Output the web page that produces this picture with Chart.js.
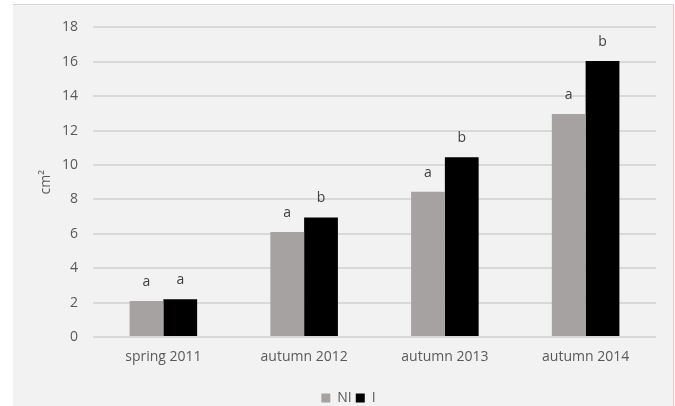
<!DOCTYPE html>
<html>
<head>
<meta charset="utf-8">
<script src="https://cdn.jsdelivr.net/npm/chart.js@4"></script>
<style>
  html, body { margin: 0; padding: 0; background: #fff; overflow: hidden; width: 675px; height: 406px; }
  #panel {
    position: absolute; left: 13px; top: 4px; width: 661px; height: 402px; overflow: hidden;
    background: #f2f2f2; border-top: 1px solid #d6d6d6; border-right: 1px solid #f4c4c4;
    box-sizing: border-box;
  }
  #wrap { position: absolute; left: 0; top: -1px; width: 660px; height: 411px; }
</style>
</head>
<body>
<div id="panel"><div id="wrap"><canvas id="areaChart"></canvas></div></div>
<script>
const seasons = ['spring 2011', 'autumn 2012', 'autumn 2013', 'autumn 2014'];
const niValues = [2.1, 6.1, 8.45, 12.97];
const iValues = [2.2, 6.95, 10.45, 16.05];
const niLetters = ['a', 'a', 'a', 'a'];
const iLetters = ['a', 'b', 'b', 'b'];
const yTicks = [0, 2, 4, 6, 8, 10, 12, 14, 16, 18];

const FONT = '"Open Sans", sans-serif';

// letters above the bars
const letterPlugin = {
  id: 'letters',
  afterDatasetsDraw(chart) {
    const ctx = chart.ctx;
    const sets = [niLetters, iLetters];
    ctx.save();
    ctx.font = '14px ' + FONT;
    ctx.fillStyle = '#404040';
    ctx.textAlign = 'center';
    ctx.textBaseline = 'middle';
    chart.data.datasets.forEach((ds, i) => {
      chart.getDatasetMeta(i).data.forEach((bar, j) => {
        ctx.fillText(sets[i][j], bar.x, bar.y - 19);
      });
    });
    ctx.restore();
  }
};

// legend sits a bit right of centre in the original
const legendShift = {
  id: 'legendShift',
  afterLayout(chart) {
    if (chart.legend) {
      chart.legend.left += 14;
      chart.legend.right += 14;
    }
  }
};

const ctx = document.getElementById('areaChart').getContext('2d');
new Chart(ctx, {
  type: 'bar',
  data: {
    labels: seasons,
    datasets: [
      { label: 'NI', data: niValues, backgroundColor: '#a5a2a1', borderWidth: 0 },
      { label: 'I', data: iValues, backgroundColor: '#000000', borderWidth: 0 }
    ]
  },
  options: {
    responsive: true,
    maintainAspectRatio: false,
    animation: false,
    layout: { padding: { top: 21, right: 17, bottom: 0, left: 0 } },
    datasets: { bar: { categoryPercentage: 0.48, barPercentage: 1 } },
    plugins: {
      legend: {
        position: 'bottom',
        labels: {
          boxWidth: 9, boxHeight: 9, padding: 4,
          color: '#595959', font: { family: FONT, size: 14 }
        }
      },
      tooltip: { enabled: false }
    },
    scales: {
      x: {
        grid: { display: false, drawTicks: false },
        border: { display: false },
        ticks: { color: '#595959', font: { family: FONT, size: 14 }, padding: 12 },
        afterFit(scale) { scale.height = 50; }
      },
      y: {
        min: 0, max: 18,
        afterBuildTicks(scale) { scale.ticks = yTicks.map(v => ({ value: v })); },
        grid: { color: '#d9d9d9', lineWidth: 2, drawTicks: false },
        border: { display: false },
        ticks: { color: '#595959', font: { family: FONT, size: 14 }, padding: 15 },
        title: {
          display: true, text: 'cm²', color: '#595959',
          font: { family: FONT, size: 14 }, padding: { top: 25, bottom: 0 }
        },
        afterFit(scale) { scale.width = 80; }
      }
    }
  },
  plugins: [letterPlugin, legendShift]
});
</script>
</body>
</html>
